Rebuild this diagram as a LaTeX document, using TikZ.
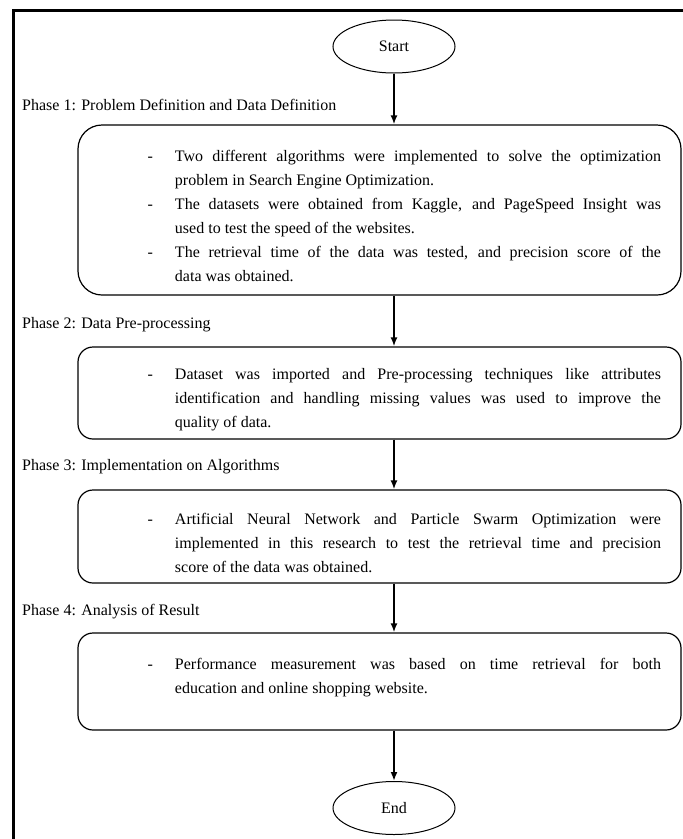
\documentclass[tikz,border=0pt]{standalone}
\usepackage{fontspec}
\setmainfont{Liberation Serif}
\usetikzlibrary{shapes.geometric, arrows.meta, positioning}

\newcommand{\nohyph}{\hyphenpenalty=10000\relax\exhyphenpenalty=10000\relax}
\newcommand{\dashitem}[1]{\par\hangindent=77pt\hangafter=0\noindent\llap{-\hspace{22pt}}#1\par}

\tikzset{
  frame/.style={line width=3pt, line join=miter},
  terminal/.style={ellipse, draw, line width=1pt, minimum width=122pt, minimum height=53pt, inner sep=0pt, font=\fontsize{16}{19}\selectfont},
  phasebox/.style={draw, line width=1.2pt, rounded corners=15pt, minimum width=603pt, text width=563pt, inner xsep=20pt, inner ysep=0pt, align=justify, font=\fontsize{16}{24}\selectfont\nohyph},
  phaselabel/.style={anchor=west, inner sep=0pt, font=\fontsize{16}{19}\selectfont},
  flow/.style={-{Latex[length=9pt,width=7pt]}, line width=2pt}
}

\begin{document}
\begin{tikzpicture}[x=1pt, y=-1pt]
	\useasboundingbox (0,0) rectangle (683,839);
	\draw[frame] (13,839) -- (13,10) -- (683,10);

	\node[terminal] (start) at (394,46.5) {Start};
	\node[phaselabel] (p1) at (22,105) {Phase 1: Problem Definition and Data Definition};
	\node[phasebox, rounded corners=24pt, minimum height=170pt] (b1) at (379.5,210) {%
		\dashitem{Two different algorithms were implemented to solve the optimization\linebreak problem in Search Engine Optimization.}
		\dashitem{The datasets were obtained from Kaggle, and PageSpeed Insight was\linebreak used to test the speed of the websites.}
		\dashitem{The retrieval time of the data was tested, and precision score of the\linebreak data was obtained.}};

	\node[phaselabel] (p2) at (22,325) {Phase 2: Data Pre-processing};
	\node[phasebox, minimum height=92pt] (b2) at (379.5,393) {%
		\dashitem{Dataset was imported and Pre-processing techniques like attributes\linebreak identification and handling missing values was used to improve the\linebreak quality of data.}};

	\node[phaselabel] (p3) at (22,467) {Phase 3: Implementation on Algorithms};
	\node[phasebox, minimum height=93pt] (b3) at (379.5,536.5) {%
		\dashitem{Artificial Neural Network and Particle Swarm Optimization were\linebreak implemented in this research to test the retrieval time and precision\linebreak score of the data was obtained.}};

	\node[phaselabel] (p4) at (22,612) {Phase 4: Analysis of Result};
	\node[phasebox, minimum height=97pt] (b4) at (379.5,681.5) {%
		\dashitem{Performance measurement was based on time retrieval for both\linebreak education and online shopping website.}\mbox{}};

	\node[terminal] (end) at (394,808) {End};

	\draw[flow] (start) -- (start |- b1.north);
	\draw[flow] (b1.south -| start) -- (b2.north -| start);
	\draw[flow] (b2.south -| start) -- (b3.north -| start);
	\draw[flow] (b3.south -| start) -- (b4.north -| start);
	\draw[flow] (b4.south -| start) -- (end);
\end{tikzpicture}
\end{document}
